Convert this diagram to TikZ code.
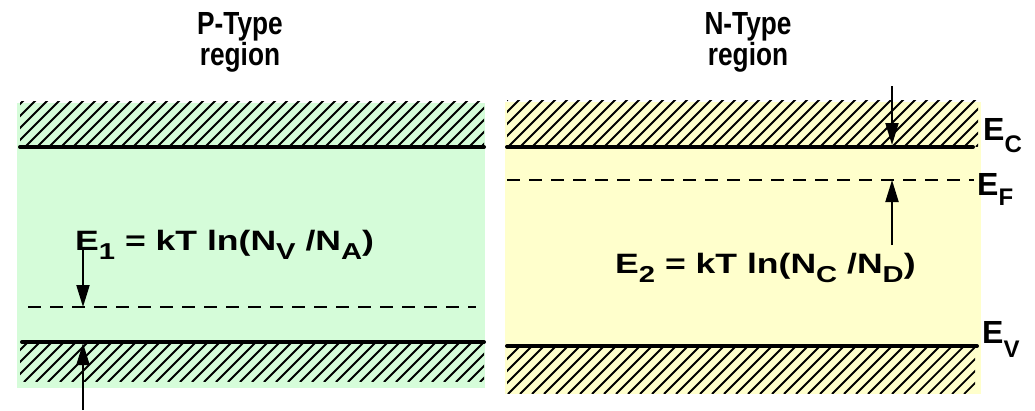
\documentclass[tikz,border=0pt]{standalone}
\usepackage{fontspec}
\setmainfont{Liberation Sans}
\newfontfamily\eqfont[FakeStretch=1.27]{Liberation Sans Bold}
\newfontfamily\labfont{Liberation Sans Bold}
\newfontfamily\titlefont[FakeStretch=0.82]{Liberation Sans Bold}
\usetikzlibrary{arrows.meta}

\definecolor{pgreen}{RGB}{213,252,217}
\definecolor{nyellow}{RGB}{255,255,204}

\newcommand{\lowsub}[2][9pt]{\raisebox{-#1}{\fontsize{23}{23}\selectfont #2}}
\newcommand{\labsub}[2][12pt]{\raisebox{-#1}{\fontsize{24}{24}\selectfont #2}}

\tikzset{
	band/.style={line width=4pt, line cap=round},
	level/.style={line width=1.5pt, dash pattern=on 13pt off 9pt},
	hatch/.style={line width=1.8pt},
	gap/.style={line width=2pt, -{Triangle[length=22pt,width=13pt]}},
	formula/.style={font=\eqfont\fontsize{28}{30}\selectfont, inner sep=0pt, anchor=base west},
	elabel/.style={font=\labfont\fontsize{32}{34}\selectfont, inner sep=0pt, anchor=base west},
	title/.style={font=\titlefont\fontsize{32}{33}\selectfont, inner sep=0pt, anchor=base}
}

\begin{document}
\begin{tikzpicture}[x=1pt,y=-1pt]
		\useasboundingbox (0,0) rectangle (1035,410);

		% regions
		\fill [pgreen] (17,103) rectangle (485,388);
		\fill [nyellow] (505,102) rectangle (981,394);

		% hatching of the bands
		\begin{scope}
			\clip (20,101) rectangle (484,147);
			\foreach \x in {-48,-36,...,490} \draw [hatch] (\x,148) -- ++(48,-48);
		\end{scope}
		\begin{scope}
			\clip (20,342) rectangle (484,381);
			\foreach \x in {-48,-36,...,490} \draw [hatch] (\x,382) -- ++(42,-42);
		\end{scope}
		\begin{scope}
			\clip (507,100) rectangle (978,146);
			\foreach \x in {460,472,...,980} \draw [hatch] (\x,147) -- ++(48,-48);
		\end{scope}
		\begin{scope}
			\clip (507,346) rectangle (975,393);
			\foreach \x in {460,472,...,980} \draw [hatch] (\x,394) -- ++(48,-48);
		\end{scope}

		% band edges and Fermi levels
		\draw [band] (20,147) -- (484,147);
		\draw [band] (22,342) -- (484,342);
		\draw [band] (507,147) -- (973,147);
		\draw [band] (507,346) -- (977,346);
		\draw [level] (28,307) -- (476,307);
		\draw [level] (507,180) -- (974,180);

		% titles
		\node (PT) at (240,34) [title] {P-Type};
		\node (PR) at (240,65) [title] {region};
		\node (NT) at (748,34) [title] {N-Type};
		\node (NR) at (748,65) [title] {region};

		% formulas
		\node (EONE) at (75,250) [formula] {E\lowsub{1} = kT ln(N\lowsub{V} /N\lowsub{A})};
		\node (ETWO) at (615,273) [formula] {E\lowsub{2} = kT ln(N\lowsub{C} /N\lowsub{D})};

		% band labels
		\node (EC) at (983,140) [elabel] {E\labsub{C}};
		\node (EF) at (977,195) [elabel] {E\labsub[10pt]{F}};
		\node (EV) at (982,343) [elabel] {E\labsub[14pt]{V}};

		% arrows
		\coordinate (P1) at (83,250);
		\coordinate (P2) at (83,307);
		\coordinate (P3) at (83,410);
		\coordinate (P4) at (83,343);
		\coordinate (N1) at (892,86);
		\coordinate (N2) at (892,145);
		\coordinate (N3) at (892,245);
		\coordinate (N4) at (892,180);
		\draw [gap] (P1) -- (P2);
		\draw [gap] (P3) -- (P4);
		\draw [gap] (N1) -- (N2);
		\draw [gap] (N3) -- (N4);

\end{tikzpicture}
\end{document}
